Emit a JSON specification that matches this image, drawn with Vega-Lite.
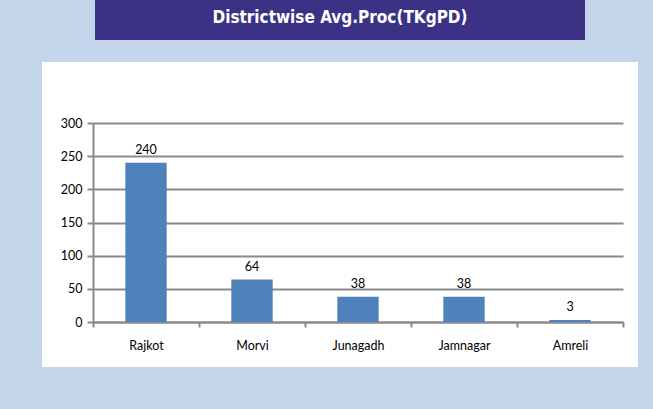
{
  "$schema": "https://vega.github.io/schema/vega-lite/v6.json",
  "background": "#C6D6EA",
  "padding": {"left": 42, "top": 0, "right": 15, "bottom": 42},
  "spacing": 22,
  "center": true,
  "vconcat": [
    {
      "width": 490,
      "height": 40,
      "view": {"fill": "#3B3285", "stroke": null},
      "data": {"values": [{"t": "Districtwise Avg.Proc(TKgPD)"}]},
      "mark": {"type": "text", "color": "white", "font": "DejaVu Sans Condensed, Liberation Sans Narrow", "fontWeight": "bold", "fontSize": 17, "baseline": "middle", "dy": -2},
      "encoding": {"text": {"field": "t", "type": "nominal"}}
    },
    {
      "width": 596,
      "height": 305,
      "view": {"fill": "white", "stroke": null},
      "data": {"values": [
        {"district": "Rajkot", "value": 240},
        {"district": "Morvi", "value": 64},
        {"district": "Junagadh", "value": 38},
        {"district": "Jamnagar", "value": 38},
        {"district": "Amreli", "value": 3}
      ]},
      "encoding": {
        "x": {
          "field": "district", "type": "nominal", "sort": null,
          "scale": {"range": [51, 581], "paddingInner": 0, "paddingOuter": 0},
          "axis": {"title": null, "orient": "bottom", "offset": -45, "labelAngle": 0, "tickBand": "extent",
                   "domainColor": "#8A8A8A", "domainWidth": 2, "tickColor": "#8A8A8A", "tickWidth": 2, "tickSize": 5,
                   "labelPadding": 12, "labelFont": "Lato", "labelFontSize": 12.5, "labelColor": "black", "grid": false}
        },
        "y": {
          "field": "value", "type": "quantitative",
          "scale": {"domain": [0, 300], "range": [260, 61], "nice": false, "zero": true},
          "axis": {"title": null, "offset": -51, "values": [0, 50, 100, 150, 200, 250, 300],
                   "grid": true, "gridColor": "#8A8A8A", "gridWidth": 2,
                   "domainColor": "#8A8A8A", "domainWidth": 2, "tickColor": "#8A8A8A", "tickWidth": 2, "tickSize": 6,
                   "labelPadding": 5, "labelFont": "Lato", "labelFontSize": 12.5, "labelColor": "black"}
        }
      },
      "layer": [
        {"mark": {"type": "bar", "color": "#4F81BD", "width": {"band": 0.39}}},
        {"mark": {"type": "text", "font": "Lato", "fontSize": 12.5, "color": "black", "baseline": "alphabetic", "dy": -9},
         "encoding": {"text": {"field": "value", "type": "quantitative"}}}
      ]
    }
  ]
}
